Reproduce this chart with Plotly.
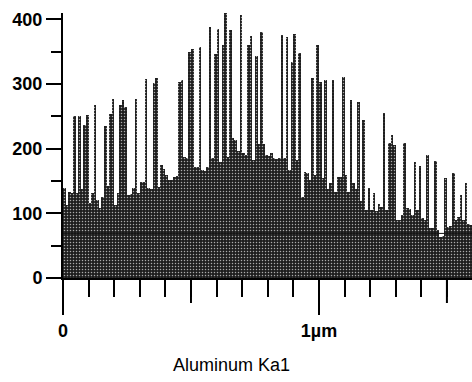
import plotly.graph_objects as go

# Aluminum Ka1 line-scan counts, one value per 0.01 µm step
step_um = 0.01
counts = [
    140, 113, 133, 132, 251, 132, 250, 137, 236, 252,
    116, 132, 268, 121, 108, 126, 235, 142, 253, 277,
    113, 131, 268, 276, 265, 128, 130, 139, 277, 131,
    149, 148, 308, 139, 138, 302, 310, 141, 175, 168,
    160, 152, 151, 156, 158, 304, 307, 187, 186, 350,
    355, 172, 171, 358, 167, 166, 172, 389, 185, 347,
    386, 180, 360, 410, 187, 383, 216, 214, 196, 407,
    193, 191, 360, 375, 182, 343, 208, 380, 207, 191,
    189, 193, 185, 184, 186, 376, 185, 373, 167, 334,
    378, 183, 348, 126, 164, 163, 152, 309, 160, 360,
    303, 154, 307, 137, 147, 307, 133, 157, 156, 311,
    160, 133, 275, 147, 137, 273, 119, 245, 105, 139,
    105, 131, 104, 115, 110, 256, 105, 209, 221, 206,
    90, 89, 98, 209, 108, 107, 98, 180, 105, 174,
    93, 90, 191, 77, 78, 181, 74, 64, 65, 154,
    79, 80, 163, 90, 95, 129, 90, 147, 83, 82,
]
positions_um = [round(i * step_um, 3) for i in range(len(counts))]

y_major = [0, 100, 200, 300, 400]
y_minor = [50, 150, 250, 350]
x_major = [0, 1]
x_major_text = ["0", "1µm"]
x_minor = [round(k * 0.1, 1) for k in range(1, 16)]
x_mid = [0.5, 1.5]
floor_level = 69
title_text = "Aluminum Ka1"

W, H = 472, 382
M_L, M_R, M_T, M_B = 63, 0, 13, 104
plot_h = H - M_T - M_B

fig = go.Figure()
fig.add_trace(go.Bar(
    x=positions_um,
    y=counts,
    width=step_um,
    offset=0,
    cliponaxis=False,
    marker=dict(
        color="#1e1e1e",
        line=dict(width=0),
        pattern=dict(shape=".", fgcolor="#ababab", bgcolor="#1e1e1e",
                     size=3, solidity=0.2, fillmode="replace"),
    ),
    showlegend=False,
))

# faint horizontal reference line through the filled area
fig.add_shape(type="line", xref="x", yref="y", x0=0, x1=1.6,
              y0=floor_level, y1=floor_level,
              line=dict(color="#111111", width=1), layer="above")

# medium-length ticks at the half-micron marks
for xv in x_mid:
    fig.add_shape(type="line", xref="x", yref="paper", x0=xv, x1=xv,
                  y0=0, y1=-25 / plot_h, line=dict(color="black", width=2))

fig.add_annotation(x=0.66, xref="x", y=0, yref="paper", yshift=-87,
                   text=title_text, showarrow=False, yanchor="middle",
                   font=dict(family="Liberation Sans", size=18, color="black"))

tickfont = dict(family="Liberation Sans", size=18, color="black", weight="bold")

fig.update_xaxes(
    range=[0, 1.598], tickmode="array", tickvals=x_major, ticktext=x_major_text,
    ticks="outside", ticklen=35, tickwidth=2, tickcolor="black",
    minor=dict(tickmode="array", tickvals=x_minor, ticks="outside",
               ticklen=17, tickwidth=2, tickcolor="black"),
    showline=True, linewidth=2, linecolor="black",
    showgrid=False, zeroline=False, tickfont=tickfont,
)
fig.update_yaxes(
    range=[0, 410], tickmode="array", tickvals=y_major,
    ticks="outside", ticklen=15, tickwidth=2, tickcolor="black",
    minor=dict(tickmode="array", tickvals=y_minor, ticks="outside",
               ticklen=10, tickwidth=2, tickcolor="black"),
    showline=True, linewidth=2, linecolor="black",
    showgrid=False, zeroline=False, tickfont=tickfont,
)
fig.update_layout(
    width=W, height=H,
    margin=dict(l=M_L, r=M_R, t=M_T, b=M_B),
    paper_bgcolor="white", plot_bgcolor="white",
    bargap=0,
)
fig.write_html("out.html")
